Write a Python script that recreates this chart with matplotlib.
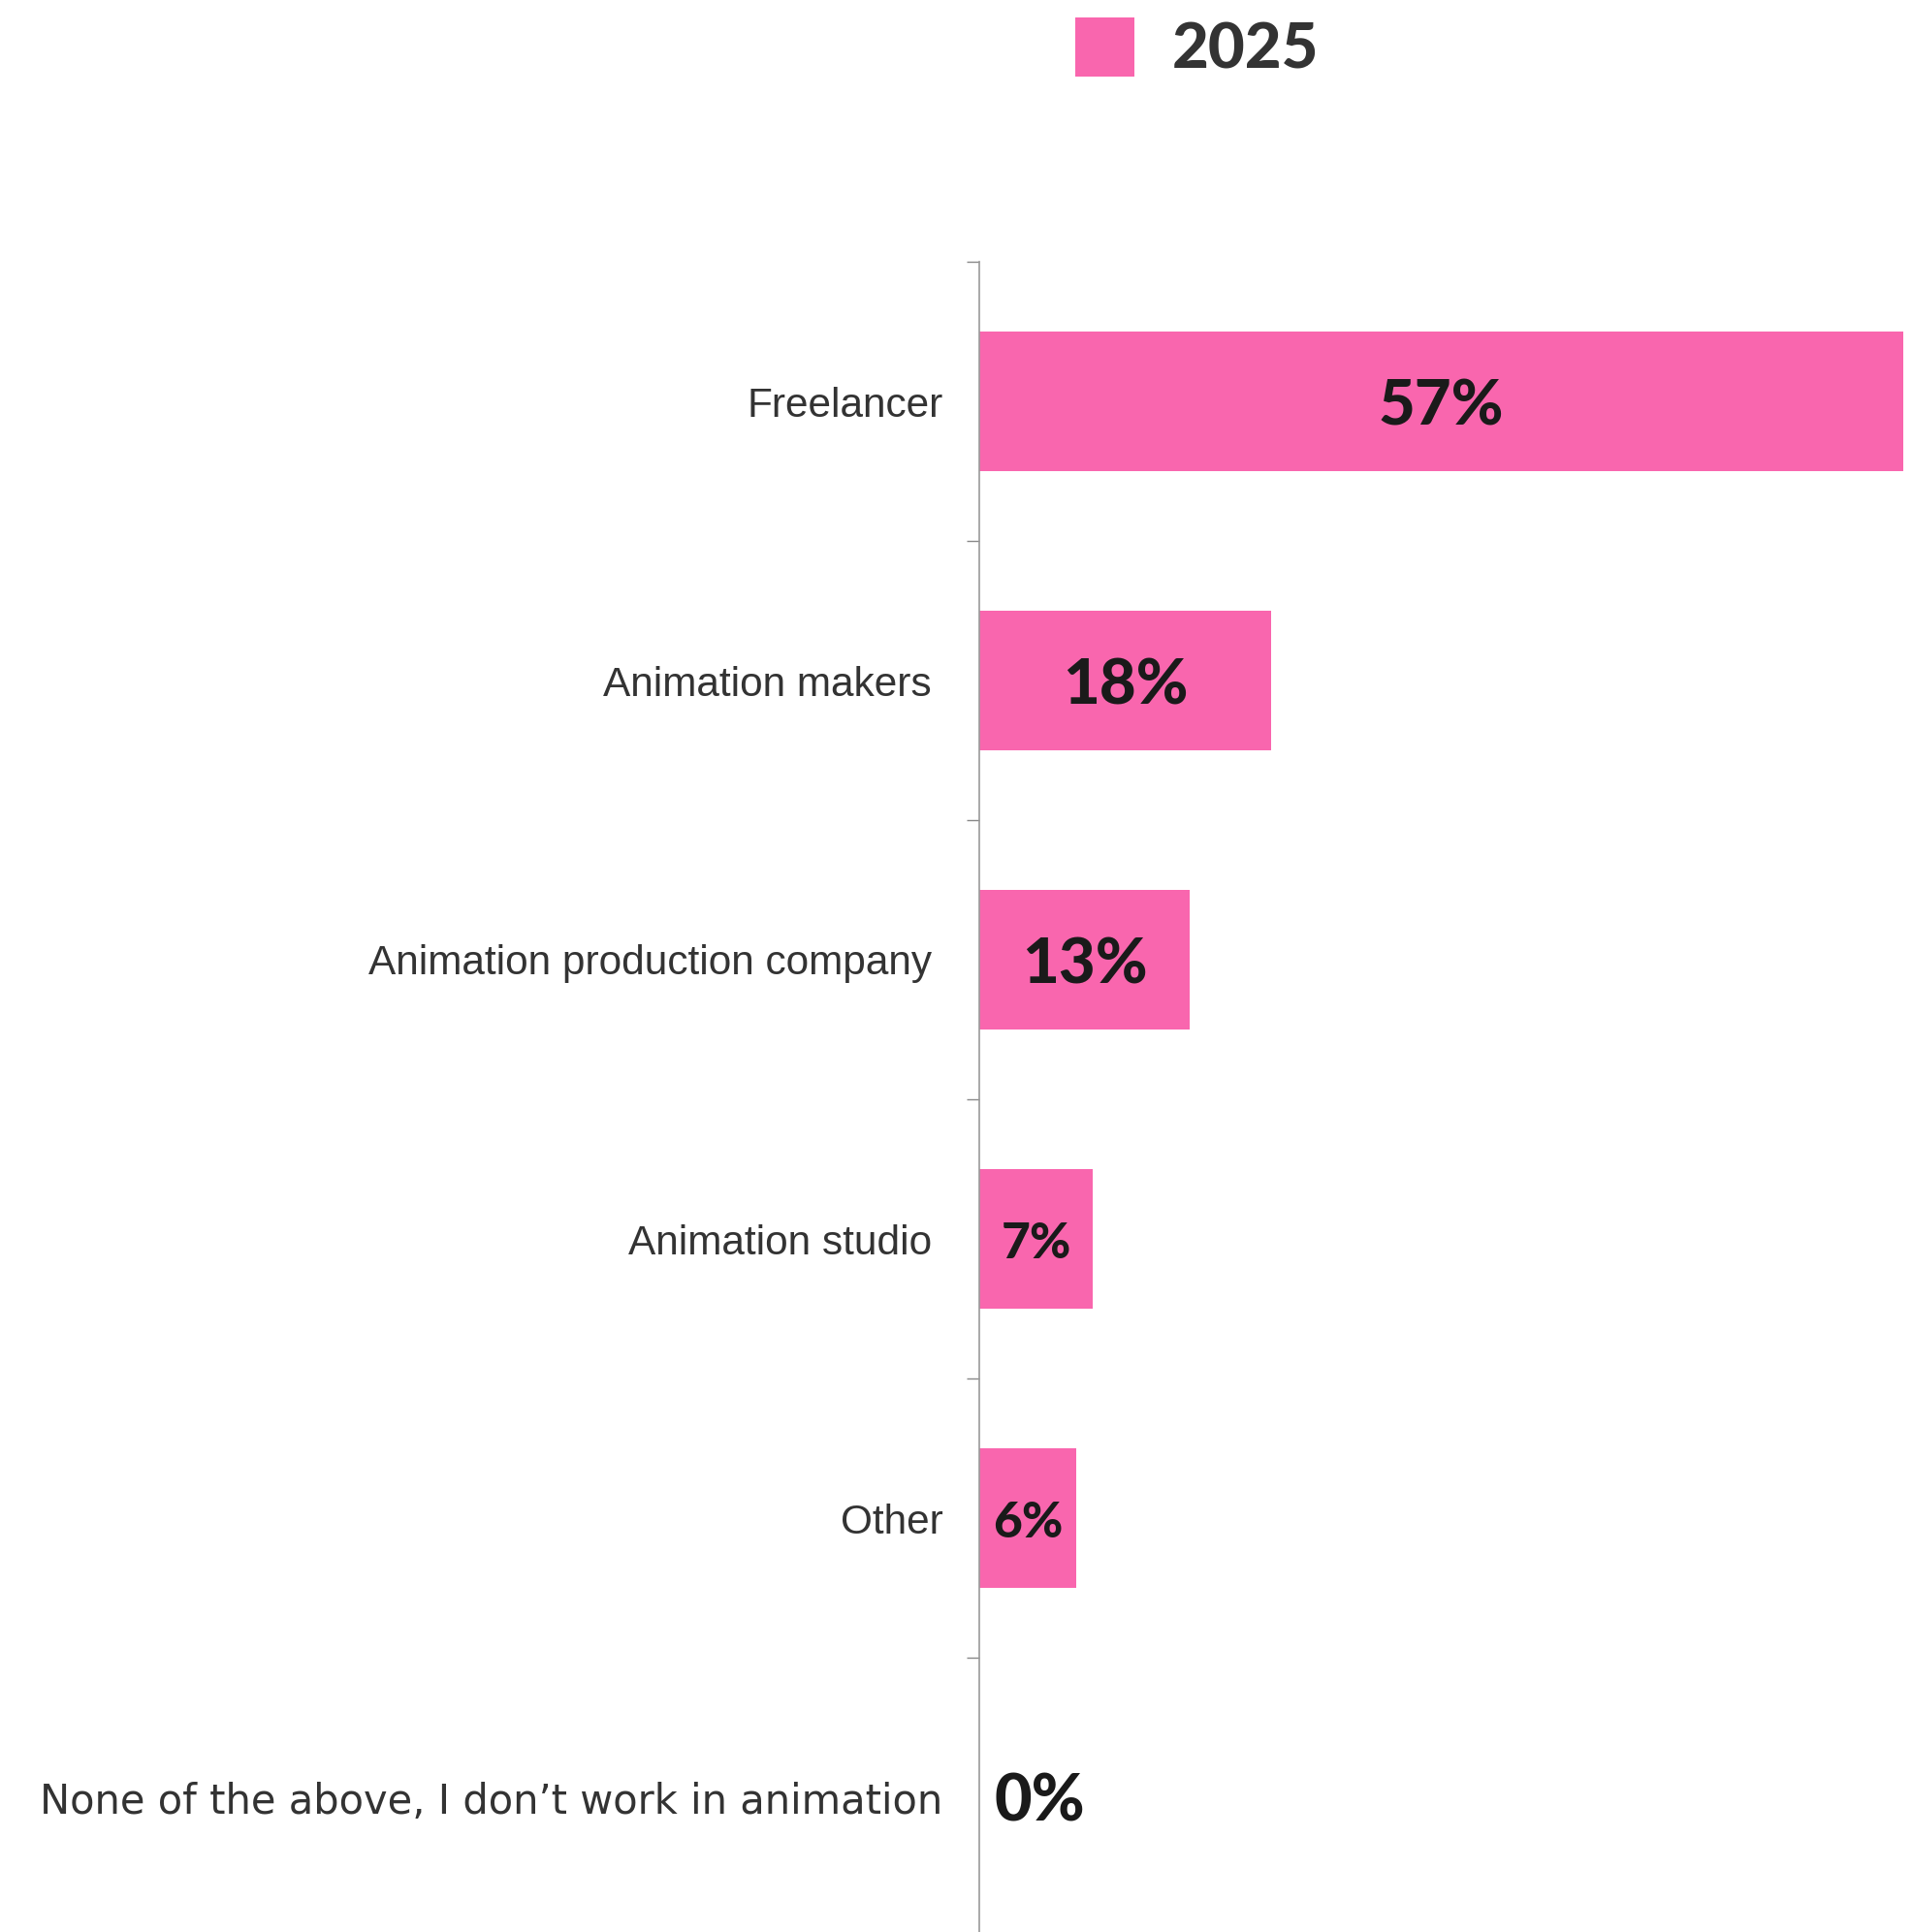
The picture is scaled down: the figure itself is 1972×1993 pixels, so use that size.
import numpy as np
import matplotlib.pyplot as plt
from matplotlib.patches import Patch

categories = ['Freelancer', 'Animation makers ', 'Animation production company ',
              'Animation studio ', 'Other', 'None of the above, I don\u2019t work in animation']
values_2025 = [57, 18, 13, 7, 6, 0]
value_labels = ['57%', '18%', '13%', '7%', '6%', '0%']
series_name = '2025'

pink = '#F966AE'
text_col = '#333333'

fig = plt.figure(figsize=(19.72, 19.93), dpi=100)
ax = fig.add_axes([1010/1972, -5/1993, 953/1972, 1 - 270/1993 + 5/1993])

y = np.arange(len(categories))
bars = ax.barh(y, values_2025, height=0.5, color=pink, label=series_name)
ax.set_xlim(0, 57)
ax.set_ylim(len(categories) - 0.5, -0.5)

# category labels, the last one in a rounder face
ax.set_yticks(y)
ax.set_yticklabels(categories)
for i, t in enumerate(ax.get_yticklabels()):
    t.set_color(text_col)
    if i == len(categories) - 1:
        t.set_fontfamily('DejaVu Sans')
        t.set_fontsize(30)
    else:
        t.set_fontfamily('Liberation Sans')
        t.set_fontsize(30.5)
ax.tick_params(axis='y', which='major', length=0, pad=27)
ax.set_yticks(np.arange(-0.5, len(categories), 1), minor=True)
ax.tick_params(axis='y', which='minor', length=9.5, width=1, color='#888888')

for s in ['top', 'right', 'bottom']:
    ax.spines[s].set_visible(False)
ax.spines['left'].set_color('#999999')
ax.spines['left'].set_linewidth(1.2)
ax.xaxis.set_visible(False)

# value labels: small bars get a smaller label, zero sits just right of the axis
for i, (v, lab) in enumerate(zip(values_2025, value_labels)):
    if v == 0:
        ax.text(0.9, i + 0.02, lab, ha='left', va='center', fontsize=48,
                fontfamily='Lato', fontweight='black', color='#1a1a1a')
    else:
        size = 37 if v < 10 else 47
        ax.text(v / 2, i + 0.02, lab, ha='center', va='center', fontsize=size,
                fontfamily='Lato', fontweight='black', color='#1a1a1a')

handles = [Patch(facecolor=pink, edgecolor='none')]
leg = fig.legend(handles, [series_name], loc='upper left',
                 bbox_to_anchor=(1076/1972, 1 + 15/1993), frameon=False,
                 borderpad=0, handlelength=0.94, handleheight=1.06, handletextpad=0.6,
                 prop={'family': 'Lato', 'weight': 'black', 'size': 47})
for t in leg.get_texts():
    t.set_color(text_col)

fig.savefig('out.png', dpi=100)
